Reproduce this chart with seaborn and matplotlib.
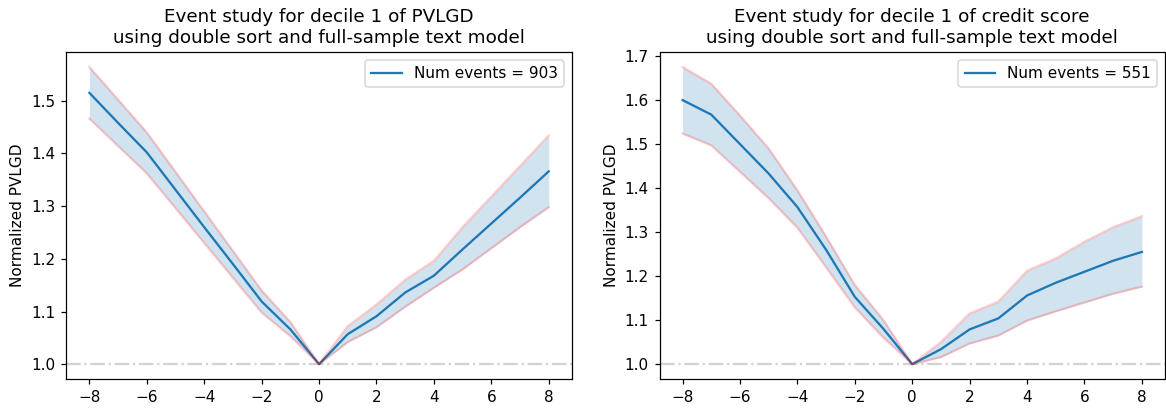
import numpy as np
import pandas as pd
import seaborn as sns
import matplotlib
matplotlib.use("Agg")
import matplotlib.pyplot as plt

event_time = [-8, -7, -6, -5, -4, -3, -2, -1, 0, 1, 2, 3, 4, 5, 6, 7, 8]

# decile 1 of PVLGD
pvlgd_mean = [1.515, 1.458, 1.402, 1.331, 1.260, 1.190, 1.119, 1.066, 1.0,
              1.057, 1.091, 1.136, 1.168, 1.218, 1.267, 1.316, 1.366]
pvlgd_upper = [1.564, 1.502, 1.440, 1.365, 1.290, 1.215, 1.140, 1.080, 1.0,
               1.072, 1.113, 1.160, 1.196, 1.260, 1.318, 1.376, 1.434]
pvlgd_lower = [1.466, 1.414, 1.362, 1.296, 1.230, 1.164, 1.098, 1.053, 1.0,
               1.042, 1.070, 1.109, 1.145, 1.180, 1.220, 1.260, 1.298]

# decile 1 of credit score
credit_mean = [1.600, 1.567, 1.500, 1.433, 1.357, 1.260, 1.153, 1.080, 1.0,
               1.034, 1.079, 1.104, 1.156, 1.185, 1.210, 1.235, 1.255]
credit_upper = [1.675, 1.637, 1.565, 1.490, 1.395, 1.290, 1.180, 1.100, 1.0,
                1.050, 1.115, 1.142, 1.212, 1.240, 1.278, 1.311, 1.336]
credit_lower = [1.524, 1.497, 1.437, 1.377, 1.310, 1.220, 1.129, 1.060, 1.0,
                1.016, 1.047, 1.065, 1.099, 1.120, 1.140, 1.160, 1.176]

titles = ["Event study for decile 1 of PVLGD\nusing double sort and full-sample text model",
          "Event study for decile 1 of credit score\nusing double sort and full-sample text model"]
num_events = [903, 551]


def event_plot(ax, mean, upper, lower, title, n):
    df = pd.DataFrame({"t": event_time, "mean": mean, "upper": upper, "lower": lower})
    sns.lineplot(data=df, x="t", y="mean", ax=ax, color="tab:blue",
                 label="Num events = %d" % n)
    sns.lineplot(data=df, x="t", y="upper", ax=ax, color="red", alpha=0.2)
    sns.lineplot(data=df, x="t", y="lower", ax=ax, color="red", alpha=0.2)
    ax.fill_between(df["t"], df["lower"], df["upper"], color="tab:blue", alpha=0.2, lw=0)
    ax.axhline(1.0, color="lightgray", linestyle="-.", zorder=0)
    ax.set_title(title, fontsize=12)
    ax.set_xlabel("")
    ax.set_ylabel("Normalized PVLGD")
    ax.legend(loc="upper right")


DPI = 110
fig, axes = plt.subplots(1, 2, figsize=(1166 / DPI, 408 / DPI), dpi=DPI)
event_plot(axes[0], pvlgd_mean, pvlgd_upper, pvlgd_lower, titles[0], num_events[0])
event_plot(axes[1], credit_mean, credit_upper, credit_lower, titles[1], num_events[1])

fig.subplots_adjust(left=0.057, right=0.999, top=0.872, bottom=0.071, wspace=0.174)
fig.savefig("out.png", dpi=DPI)
